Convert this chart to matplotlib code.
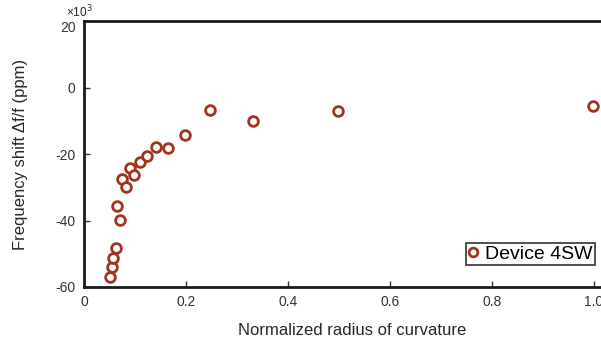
import matplotlib.pyplot as plt
import matplotlib.transforms as mtransforms

plt.rcParams['font.family'] = ['Liberation Sans', 'DejaVu Sans']
plt.rcParams['axes.unicode_minus'] = False

# Normalized radius of curvature vs frequency shift (values in units of 10^3 ppm)
radius = [0.051, 0.054, 0.057, 0.063, 0.065, 0.0706, 0.075, 0.082, 0.0896, 0.099,
          0.110, 0.124, 0.141, 0.165, 0.199, 0.248, 0.332, 0.499, 0.999]
shift = [-56.9, -53.9, -51.2, -48.4, -35.6, -39.8, -27.4, -29.9, -24.1, -26.4,
         -22.3, -20.6, -17.9, -18.2, -14.3, -6.9, -10.0, -7.1, -5.7]

text_color = '#262626'
marker_color = '#A0341C'

fig = plt.figure(figsize=(6.01, 3.47), dpi=100)
ax = fig.add_axes([84 / 601, 60 / 347, 535.5 / 601, 266 / 347])

ax.plot(radius, shift, linestyle='none', marker='o', markersize=7,
        markerfacecolor='white', markeredgecolor=marker_color,
        markeredgewidth=2, label='Device 4SW')

ax.set_xlim(0, 1.05)
ax.set_ylim(-60, 20)
ax.set_xticks([0, 0.2, 0.4, 0.6, 0.8, 1.0])
ax.set_xticklabels(['0', '0.2', '0.4', '0.6', '0.8', '1.0'])
ax.set_yticks([-60, -40, -20, 0, 20])

for side in ['left', 'bottom', 'top', 'right']:
    ax.spines[side].set_linewidth(2)
    ax.spines[side].set_color('#1a1a1a')

ax.tick_params(direction='in', length=4, width=1, labelsize=10,
               colors='#333333', top=False, right=False, pad=6)

# top y tick label sits a little lower, under the exponent
top_label = ax.get_yticklabels()[-1]
top_label.set_transform(top_label.get_transform() +
                        mtransforms.ScaledTranslation(0, -6 / 100, fig.dpi_scale_trans))

ax.set_xlabel('Normalized radius of curvature', fontsize=12, color=text_color, labelpad=10)
ax.set_ylabel('Frequency shift \u0394f/f (ppm)', fontsize=12, color=text_color, labelpad=20)

fig.text(66 / 601, 1 - 12 / 347, '\u00d710$^3$', fontsize=8.5, color=text_color,
         ha='left', va='center')

leg = ax.legend(loc='lower right', bbox_to_anchor=(595 / 601, 1 - 265 / 347),
                bbox_transform=fig.transFigure, fontsize=14, frameon=True,
                fancybox=False, handlelength=0.5, handletextpad=0.35,
                borderpad=0.12, borderaxespad=0, markerscale=0.9)
leg.get_frame().set_edgecolor('black')
leg.get_frame().set_linewidth(1.2)

fig.savefig('out.png', dpi=100)
